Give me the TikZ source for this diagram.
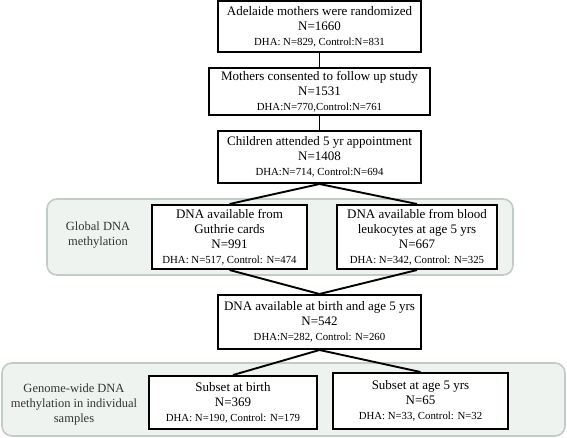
\documentclass[tikz,border=0pt]{standalone}
\usepackage{fontspec}
\setmainfont{Liberation Serif}
\newcommand\smalltxt{\fontsize{10.8}{12.5}\selectfont}
\definecolor{bandfill}{HTML}{EFF3F0}
\definecolor{bandline}{HTML}{C3CBC6}
\definecolor{labtext}{HTML}{333333}
\begin{document}
\begin{tikzpicture}[x=1pt,y=-1pt,
  box/.style={draw=black, line width=2pt, fill=white, align=center, inner sep=0pt,
    font=\fontsize{13}{15}\selectfont},
  band/.style={draw=bandline, line width=1.6pt, fill=bandfill, rounded corners=10pt},
  lab/.style={align=center, text=labtext, font=\fontsize{12.5}{15}\selectfont},
  conn/.style={line width=1.9pt}]
\useasboundingbox (0,0) rectangle (567,437);
% bands
\draw[band] (47,199) rectangle (513,275);
\draw[band] (2,363) rectangle (565,436);
\node[lab] (lab1) at (98,235) {Global DNA\\methylation};
\node[lab] (lab2) at (74,404) {Genome-wide DNA\\methylation in individual\\samples};
% boxes
\node[box, minimum width=203pt, minimum height=51pt] (b1) at (319.5,26.5)
  {Adelaide mothers were randomized\\N=1660\\{\smalltxt DHA: N=829, Control:N=831}};
\node[box, minimum width=221pt, minimum height=47pt] (b2) at (319.5,91.5)
  {Mothers consented to follow up study\\N=1531\\{\smalltxt DHA:N=770,Control:N=761}};
\node[box, minimum width=203pt, minimum height=52pt] (b3) at (319.5,157)
  {Children attended 5 yr appointment\\N=1408\\{\smalltxt DHA:N=714, Control:N=694}};
\node[box, minimum width=155pt, minimum height=64pt] (l1) at (229.5,237)
  {DNA available from\\Guthrie cards\\N=991\\{\smalltxt DHA: N=517, Control: N=474}};
\node[box, minimum width=160pt, minimum height=64pt] (r1) at (417,237)
  {DNA available from blood\\leukocytes at age 5 yrs\\N=667\\{\smalltxt DHA: N=342, Control: N=325}};
\node[box, minimum width=203pt, minimum height=54pt] (b5) at (319.5,322)
  {DNA available at birth and age 5 yrs\\N=542\\{\smalltxt DHA:N=282, Control: N=260}};
\node[box, minimum width=168pt, minimum height=53pt] (l2) at (233,402.5)
  {Subset at birth\\N=369\\{\smalltxt DHA: N=190, Control: N=179}};
\node[box, minimum width=175pt, minimum height=56pt] (r2) at (420.5,401)
  {Subset at age 5 yrs\\N=65\\{\smalltxt DHA: N=33, Control: N=32}};
% connectors
\draw[conn] (b1.south) -- (b2.north);
\draw[conn] (b2.south) -- (b3.north);
\draw[conn] (b3.south) -- (l1.north);
\draw[conn] (b3.south) -- (r1.north);
\draw[conn] (l1.south) -- (b5.north);
\draw[conn] (r1.south) -- (b5.north);
\draw[conn] (b5.south) -- (l2.north);
\draw[conn] (b5.south) -- (r2.north);
\end{tikzpicture}
\end{document}
